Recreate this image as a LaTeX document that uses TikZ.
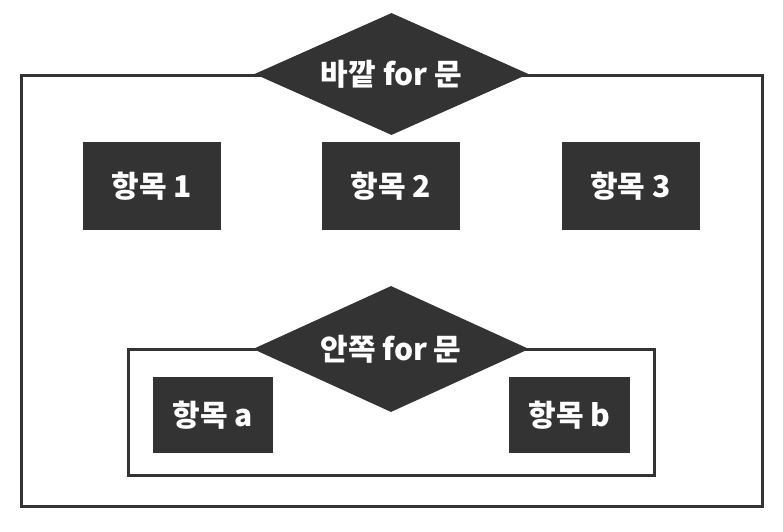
\documentclass[tikz,border=0pt]{standalone}
\usepackage{fontspec}
\newfontfamily\kr{Noto Sans CJK KR}
\usetikzlibrary{shapes.geometric}
\definecolor{dk}{HTML}{333333}
\begin{document}
\begin{tikzpicture}[x=1pt,y=-1pt,
  frame/.style={draw=dk,line width=3pt,inner sep=0pt},
  lbl/.style={text=white,font=\kr\bfseries\fontsize{30}{32}\selectfont},
  item/.style={lbl,fill=dk,inner sep=0pt},
  bigitem/.style={item,minimum width=138pt,minimum height=88pt},
  smallitem/.style={item,minimum width=120pt,minimum height=76pt},
  loopdia/.style={lbl,diamond,fill=dk,aspect=2.24,inner sep=0pt,minimum width=274pt,minimum height=122pt}]
\useasboundingbox (0,0) rectangle (783,531);
\fill[white] (0,0) rectangle (783,531);
% outer loop frame
\node[frame,minimum width=741pt,minimum height=431pt] (outer) at (391.5,290.5) {};
\node[loopdia] (outerdia) at (391.5,74) {바깥 for 문};
% outer items
\node[bigitem] (i1) at (152,186) {항목 1};
\node[bigitem] (i2) at (391,186) {항목 2};
\node[bigitem] (i3) at (630.5,186) {항목 3};
% inner loop frame
\node[frame,minimum width=526pt,minimum height=126pt] (inner) at (391,412) {};
\node[loopdia,minimum width=276pt,minimum height=126pt] (innerdia) at (391,349) {안쪽 for 문};
% inner items
\node[smallitem] (ia) at (213,415) {항목 a};
\node[smallitem,minimum width=121pt] (ib) at (569.5,415) {항목 b};
\end{tikzpicture}
\end{document}
